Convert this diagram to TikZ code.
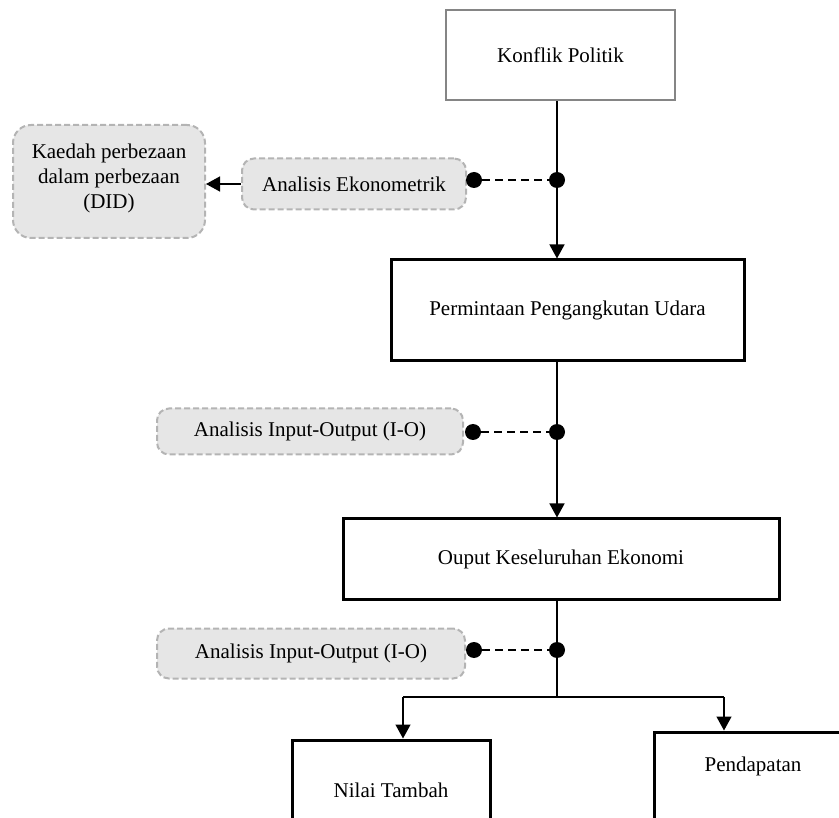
\documentclass[tikz,border=0pt]{standalone}
\usepackage{fontspec}
\setmainfont{Liberation Serif}
\usetikzlibrary{arrows.meta}
\definecolor{greyfill}{HTML}{E6E6E6}
\definecolor{greyborder}{HTML}{B4B4B4}
\definecolor{kpborder}{HTML}{858585}
\begin{document}
\begin{tikzpicture}[x=1pt,y=-1pt,
  txt/.style={font=\fontsize{21}{25}\selectfont},
  mainbox/.style={txt, draw=black, line width=3pt, rectangle, inner sep=0pt, fill=white},
  topbox/.style={txt, draw=kpborder, line width=2.5pt, rectangle, inner sep=0pt, fill=white},
  methodbox/.style={txt, draw=greyborder, fill=greyfill, dash pattern=on 6pt off 3pt, line width=2pt, rounded corners=12pt, inner sep=0pt, align=center},
  dotnode/.style={circle, fill=black, inner sep=0pt, minimum size=16pt},
  flow/.style={line width=1.3pt, -{Triangle[width=15pt,length=14pt]}},
  plainline/.style={line width=1.3pt},
  link/.style={line width=1.8pt, dash pattern=on 8pt off 5pt}]
\useasboundingbox (0,0) rectangle (839,818);
\clip (0,0) rectangle (839,818);

% main boxes
\node[topbox, minimum width=229pt, minimum height=90pt] (kp) at (560.5,55) {Konflik Politik};
\node[mainbox, minimum width=353pt, minimum height=101pt] (pu) at (567.5,310.5) {Permintaan Pengangkutan Udara};
\node[mainbox, minimum width=436pt, minimum height=80pt] (ok) at (561,559) {Ouput Keseluruhan Ekonomi};
\node[mainbox, minimum width=198pt, minimum height=100pt] (nt) at (391,790) {Nilai Tambah};
\node[mainbox, minimum width=198pt, minimum height=100pt,
  label={[txt, anchor=center, yshift=-36pt]north:Pendapatan}] (pd) at (753,782) {};

% method boxes
\node[methodbox, rounded corners=18pt, minimum width=192pt, minimum height=113pt,
  text depth=11pt] (kd) at (109,181.5)
  {Kaedah perbezaan\\dalam perbezaan\\(DID)};
\node[methodbox, minimum width=224pt, minimum height=51pt] (ae) at (354,184) {Analisis Ekonometrik};
\node[methodbox, minimum width=306pt, minimum height=46pt] (io1) at (310,431.5) {Analisis Input-Output (I-O)};
\node[methodbox, minimum width=308pt, minimum height=50pt] (io2) at (311,653.5) {Analisis Input-Output (I-O)};

% spine
\coordinate (cx) at (557,0);
\coordinate (br) at (557,697);
\coordinate (bl) at (403,697);
\coordinate (brr) at (724,697);

\draw[flow] (kp.south -| cx) -- (pu.north -| cx);
\draw[flow] (pu.south -| cx) -- (ok.north -| cx);
\draw[plainline] (ok.south -| cx) -- (br);
\draw[plainline] (bl) -- (brr);
\draw[flow] (bl) -- (bl |- nt.north);
\draw[flow] (brr) -- (brr |- pd.north);

\draw[flow] (ae.west) -- (ae.west -| kd.east);

% dots
\node[dotnode] (d1a) at (474,180) {};
\node[dotnode] (d1b) at (557,180) {};
\node[dotnode] (d2a) at (473,432) {};
\node[dotnode] (d2b) at (557,432) {};
\node[dotnode] (d3a) at (474,650) {};
\node[dotnode] (d3b) at (557,650) {};
\draw[link] (d1a) -- (d1b);
\draw[link] (d2a) -- (d2b);
\draw[link] (d3a) -- (d3b);
\end{tikzpicture}
\end{document}
